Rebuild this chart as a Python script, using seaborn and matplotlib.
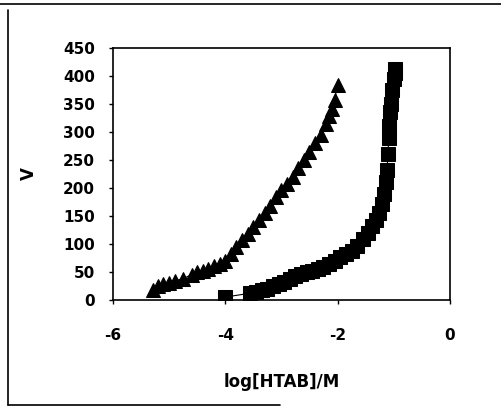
import matplotlib
matplotlib.use("Agg")
import matplotlib.pyplot as plt
from matplotlib.lines import Line2D
import seaborn as sns
import pandas as pd

# triangle series
tri_x = [-5.28, -5.2, -5.1, -5.0, -4.9, -4.75, -4.6, -4.5, -4.4, -4.3, -4.2, -4.1,
         -4.0, -3.9, -3.8, -3.7, -3.6, -3.5, -3.4, -3.3, -3.2, -3.1, -3.0, -2.9,
         -2.8, -2.7, -2.6, -2.5, -2.4, -2.3, -2.2, -2.15, -2.1, -2.05, -2.0]
tri_y = [18, 24, 28, 30, 34, 38, 45, 50, 52, 55, 60, 64,
         70, 82, 95, 107, 118, 130, 142, 155, 168, 184, 197, 208,
         220, 235, 250, 265, 280, 295, 315, 328, 342, 358, 385]

# square series
sq_x = [-4.0, -3.55, -3.45, -3.35, -3.25, -3.15, -3.05, -2.95, -2.85, -2.75, -2.65,
        -2.55, -2.45, -2.35, -2.25, -2.15, -2.05, -1.95, -1.85, -1.75, -1.65, -1.55,
        -1.45, -1.38, -1.32, -1.26, -1.21, -1.17, -1.14, -1.12, -1.1, -1.09, -1.08,
        -1.07, -1.05, -1.03, -1.0, -0.98, -0.97]
sq_y = [5, 12, 14, 17, 20, 24, 28, 32, 37, 42, 46,
        49, 52, 55, 59, 64, 70, 76, 82, 88, 96, 108,
        120, 132, 143, 155, 172, 190, 210, 232, 260, 290, 310,
        335, 350, 375, 395, 405, 412]

sns.set_style("white")
plt.rcParams['font.family'] = ['DejaVu Sans']
plt.rcParams.update({
    "text.color": "black",
    "axes.labelcolor": "black",
    "xtick.color": "black",
    "ytick.color": "black",
    "axes.unicode_minus": False,
})

fig = plt.figure(figsize=(5.02, 4.08), dpi=100)
ax = fig.add_axes([0.225, 0.265, 0.671, 0.617])

tri = pd.DataFrame({"x": tri_x, "y": tri_y})
sq = pd.DataFrame({"x": sq_x, "y": sq_y})

sns.lineplot(data=tri, x="x", y="y", ax=ax, color="black", linewidth=0.8,
             marker="^", markersize=9.5, markeredgecolor="black")
sns.lineplot(data=sq, x="x", y="y", ax=ax, color="black", linewidth=0.8,
             marker="s", markersize=10.5, markeredgecolor="black")

ax.set_xlim(-6, 0)
ax.set_ylim(0, 450)
ax.set_xticks([-6, -4, -2, 0])
ax.set_yticks(range(0, 451, 50))
ax.tick_params(axis="both", labelsize=11, length=3, width=1, direction="out",
               bottom=True, left=True)
ax.tick_params(axis="y", pad=10)
ax.tick_params(axis="x", pad=17)
for lab in ax.get_xticklabels() + ax.get_yticklabels():
    lab.set_fontweight("bold")

for s in ax.spines.values():
    s.set_color("black")
    s.set_linewidth(1.2)

ax.set_xlabel("log[HTAB]/M", fontsize=12, fontweight="bold", labelpad=22)
ax.set_ylabel("V", fontsize=12, fontweight="bold", labelpad=18)

# scanned frame: top, left and part of the bottom edge (no right edge)
W, H = 502, 408
frame = [
    ((0, W), (H - 4, H - 4)),
    ((8, 8), (3, H - 10)),
    ((8, 280), (3, 3)),
]
for xs, ys in frame:
    fig.add_artist(Line2D([xs[0] / W, xs[1] / W], [ys[0] / H, ys[1] / H],
                          transform=fig.transFigure, color="black", linewidth=1.2))

fig.savefig("out.png", dpi=100)
